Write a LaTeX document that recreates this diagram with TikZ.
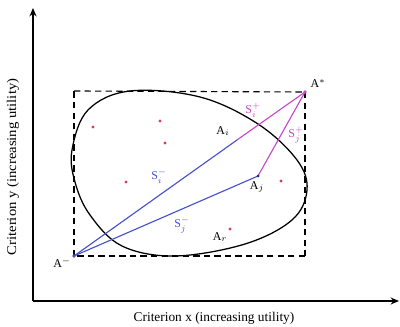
\documentclass[tikz,border=0pt]{standalone}
\usepackage{fontspec}
\setmainfont{Liberation Serif}
\usetikzlibrary{arrows.meta}
\definecolor{bl}{RGB}{70,80,205}
\definecolor{mg}{RGB}{200,70,200}
\definecolor{rd}{RGB}{215,60,90}
\tikzset{
  lbl/.style={font=\fontsize{8.5}{9}\selectfont, inner sep=0.5pt},
  axlbl/.style={font=\fontsize{9.5}{10}\selectfont, inner sep=0pt},
  axis/.style={line width=0.8pt, -{Stealth[length=6pt,width=5pt]}},
  dot/.style={circle, fill=rd, inner sep=0pt, minimum size=2.4pt},
  bline/.style={bl, line width=0.8pt},
  mline/.style={mg, line width=0.8pt},
  dashbox/.style={dashed, dash pattern=on 4.5pt off 3pt, line width=0.8pt},
}
\begin{document}
\begin{tikzpicture}[x=0.025cm, y=-0.025cm]
\useasboundingbox (0,0) rectangle (400,327);
% axes
\coordinate (O) at (33,301);
\coordinate (Ytip) at (33,8);
\coordinate (Xtip) at (399,301);
\draw[axis] (O) -- (Ytip);
\draw[axis] (O) -- (Xtip);
\node[axlbl, rotate=90] (ylab) at (13,167) {\scalebox{1.1}[1]{Criterion y (increasing utility)}};
\node[axlbl] (xlab) at (214,318) {Criterion x (increasing utility)};
% points
\coordinate (Aminus) at (74,256);
\coordinate (Astar) at (305,92);
\coordinate (Ai) at (237,140);
\coordinate (Aj) at (258,176);
\coordinate (TL) at (74,91);
\coordinate (BR) at (305,256);
% dashed box
\draw[dashbox] (Aminus) -- (TL);
\draw[dashbox] (TL) -- (Astar);
\draw[dashbox] (Astar) -- (BR);
\draw[dashbox] (BR) -- (Aminus);
% closed curve
\draw[line width=0.9pt] plot[smooth cycle, tension=0.6] coordinates {
 (72,150) (88,110) (130,91) (200,97) (258,124) (297,160) (307,190)
 (292,220) (245,244) (175,256) (122,246) (90,215) (75,182)};
% lines
\draw[bline] (Aminus) -- (Ai);
\draw[bline] (Aminus) -- (Aj);
\draw[mline] (Ai) -- (Astar);
\draw[mline] (Aj) -- (Astar);
\fill[bl] (Aminus) circle (1.8);
\fill[mg] (Astar) circle (1.8);
\fill[bl!50!black] (Aj) circle (1.5);
% red dots
\node[dot] (r1) at (93,127) {};
\node[dot] (r2) at (160,121) {};
\node[dot] (r3) at (165,143) {};
\node[dot] (r4) at (126,182) {};
\node[dot] (r5) at (281,181) {};
\node[dot] (r6) at (230,229) {};
% labels
\node[lbl] (lAstar) at (318,84) {A$^{*}$};
\node[lbl] (lAminus) at (62,263) {A$^{-}$};
\node[lbl] (lAi) at (223,131) {A$_{i}$};
\node[lbl] (lAj) at (257,187) {A$_{j}$};
\node[lbl] (lAr) at (220,237) {A$_{r}$};
\node[lbl, text=mg] (lSip) at (253,110) {S$_{i}^{+}$};
\node[lbl, text=mg] (lSjp) at (296,135) {S$_{j}^{+}$};
\node[lbl, text=bl] (lSim) at (159,176) {S$_{i}^{-}$};
\node[lbl, text=bl] (lSjm) at (182,225) {S$_{j}^{-}$};
\end{tikzpicture}
\end{document}
